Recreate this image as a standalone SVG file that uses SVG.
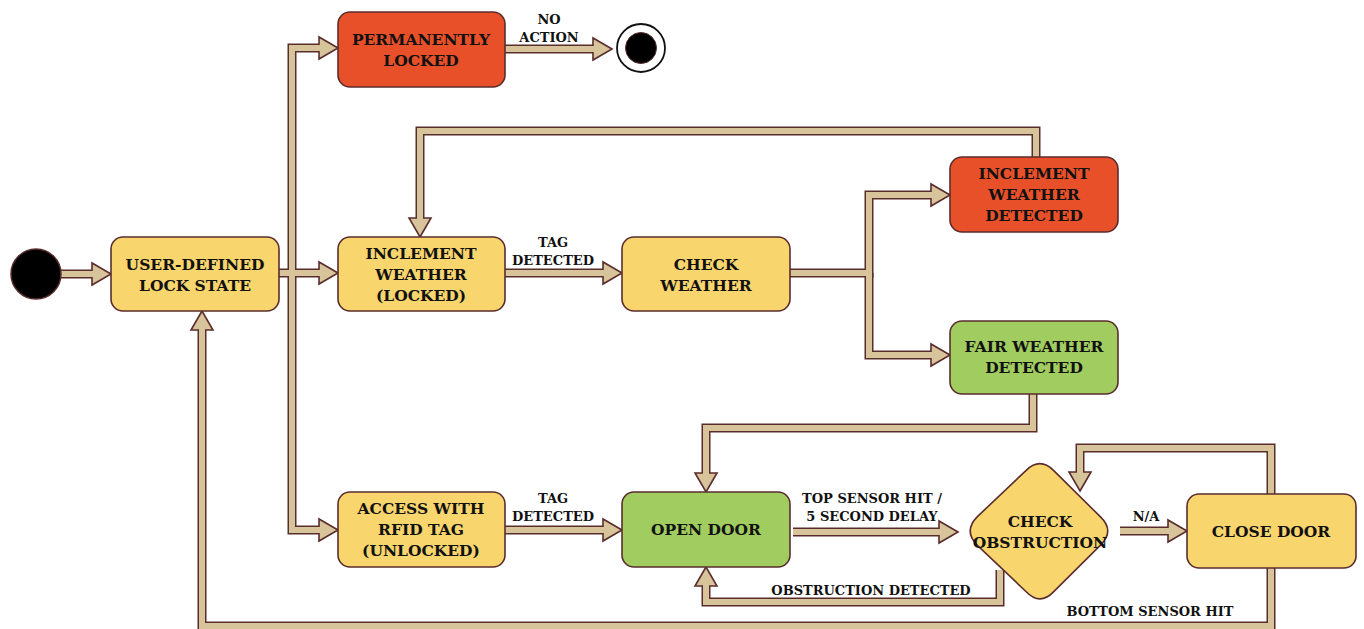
<svg xmlns="http://www.w3.org/2000/svg" xmlns:xlink="http://www.w3.org/1999/xlink" width="1364" height="629" viewBox="0 0 1364 629">
<style>
.box{stroke:#5a2d2d;stroke-width:1.6}
.y{fill:#f9d56e}.r{fill:#e8502a}.g{fill:#a1cc60}
.t{font-family:"DejaVu Serif","Liberation Serif",serif;font-weight:bold;font-size:15.5px;fill:#111;text-anchor:middle}
.l{font-family:"DejaVu Serif","Liberation Serif",serif;font-weight:bold;font-size:13px;fill:#111;text-anchor:middle}
.o{fill:none;stroke:#5a2d2d;stroke-width:9;stroke-linejoin:miter}
.i{fill:none;stroke:#d8c49b;stroke-width:6;stroke-linejoin:miter}
.hd{fill:#d8c49b;stroke:#5a2d2d;stroke-width:1.6;stroke-linejoin:miter}
</style>
<defs>
<path id="hd" d="M0,0 L-19,-11 L-19,11 Z"/>
</defs>
<rect width="1364" height="629" fill="#fff"/>
<g id="connectors">
<g class="o">
<path d="M61,274 H93"/>
<path d="M279,273 H320"/>
<path d="M292,273 V48 H320"/>
<path d="M292,273 V530 H320"/>
<path d="M505,49 H593"/>
<path d="M505,273 H604"/>
<path d="M790,273 H869 V195 H932"/>
<path d="M869,273 V355 H932"/>
<path d="M1036,157 V131 H420 V219"/>
<path d="M1033,394 V428 H706 V474"/>
<path d="M505,530 H604"/>
<path d="M793,532 H940"/>
<path d="M1120,531 H1169"/>
<path d="M1271,494 V448 H1080 V472"/>
<path d="M1000,570 V602 H706 V585"/>
<path d="M1271,568 V626 H202 V329"/>
</g>
<g class="hd">
<use xlink:href="#hd" transform="translate(111,274)"/>
<use xlink:href="#hd" transform="translate(338,273)"/>
<use xlink:href="#hd" transform="translate(338,48)"/>
<use xlink:href="#hd" transform="translate(338,530)"/>
<use xlink:href="#hd" transform="translate(612,49)"/>
<use xlink:href="#hd" transform="translate(622,273)"/>
<use xlink:href="#hd" transform="translate(950,195)"/>
<use xlink:href="#hd" transform="translate(950,355)"/>
<use xlink:href="#hd" transform="translate(420,237) rotate(90)"/>
<use xlink:href="#hd" transform="translate(706,492) rotate(90)"/>
<use xlink:href="#hd" transform="translate(622,530)"/>
<use xlink:href="#hd" transform="translate(958,532)"/>
<use xlink:href="#hd" transform="translate(1187,531)"/>
<use xlink:href="#hd" transform="translate(1080,491) rotate(90)"/>
<use xlink:href="#hd" transform="translate(706,567) rotate(-90)"/>
<use xlink:href="#hd" transform="translate(202,311) rotate(-90)"/>
</g>
<g class="i">
<path d="M61,274 H95"/>
<path d="M279,273 H322"/>
<path d="M292,273 V48 H322"/>
<path d="M292,273 V530 H322"/>
<path d="M505,49 H595"/>
<path d="M505,273 H606"/>
<path d="M790,273 H869 V195 H934"/>
<path d="M869,273 V355 H934"/>
<path d="M1036,157 V131 H420 V221"/>
<path d="M1033,394 V428 H706 V476"/>
<path d="M505,530 H606"/>
<path d="M793,532 H942"/>
<path d="M1120,531 H1171"/>
<path d="M1271,494 V448 H1080 V474"/>
<path d="M1000,570 V602 H706 V583"/>
<path d="M1271,568 V626 H202 V327"/>
</g>
<g class="l">
<text x="549" y="24">NO</text>
<text x="549" y="42">ACTION</text>
<text x="553" y="247">TAG</text>
<text x="553" y="265">DETECTED</text>
<text x="553" y="503">TAG</text>
<text x="553" y="521">DETECTED</text>
<text x="872" y="503">TOP SENSOR HIT /</text>
<text x="872" y="521">5 SECOND DELAY</text>
<text x="1146" y="521">N/A</text>
<text x="871" y="595">OBSTRUCTION DETECTED</text>
<text x="1150" y="616">BOTTOM SENSOR HIT</text>
</g>
</g>
<g id="start">
<circle cx="36" cy="274" r="25" fill="#000" stroke="#5a2d2d" stroke-width="1.5"/>
</g>
<g id="end">
<circle cx="641" cy="48" r="24" fill="#fff" stroke="#111" stroke-width="1.8"/>
<circle cx="641" cy="48" r="15.5" fill="#000" stroke="#5a2d2d" stroke-width="1"/>
</g>
<g id="user-defined">
<rect class="box y" x="111" y="237" width="168" height="74" rx="12"/>
<text class="t" x="195" y="270">USER-DEFINED</text>
<text class="t" x="195" y="291">LOCK STATE</text>
</g>
<g id="perm-locked">
<rect class="box r" x="338" y="12" width="167" height="75" rx="12"/>
<text class="t" x="421" y="45">PERMANENTLY</text>
<text class="t" x="421" y="66">LOCKED</text>
</g>
<g id="inclement-locked">
<rect class="box y" x="338" y="237" width="167" height="74" rx="12"/>
<text class="t" x="421" y="259">INCLEMENT</text>
<text class="t" x="421" y="280">WEATHER</text>
<text class="t" x="421" y="301">(LOCKED)</text>
</g>
<g id="check-weather">
<rect class="box y" x="622" y="237" width="168" height="74" rx="12"/>
<text class="t" x="706" y="270">CHECK</text>
<text class="t" x="706" y="291">WEATHER</text>
</g>
<g id="inclement-detected">
<rect class="box r" x="950" y="157" width="168" height="75" rx="12"/>
<text class="t" x="1034" y="179">INCLEMENT</text>
<text class="t" x="1034" y="200">WEATHER</text>
<text class="t" x="1034" y="221">DETECTED</text>
</g>
<g id="fair-detected">
<rect class="box g" x="950" y="321" width="168" height="73" rx="12"/>
<text class="t" x="1034" y="352">FAIR WEATHER</text>
<text class="t" x="1034" y="373">DETECTED</text>
</g>
<g id="rfid">
<rect class="box y" x="338" y="492" width="167" height="75" rx="12"/>
<text class="t" x="421" y="514">ACCESS WITH</text>
<text class="t" x="421" y="535">RFID TAG</text>
<text class="t" x="421" y="556">(UNLOCKED)</text>
</g>
<g id="open-door">
<rect class="box g" x="622" y="492" width="168" height="75" rx="12"/>
<text class="t" x="706" y="535">OPEN DOOR</text>
</g>
<g id="check-obstruction">
<path class="box y" d="M1026.2,470.3 Q1040,457 1053.5,470.4 L1100.5,516.9 Q1115,531 1100.5,545.1 L1053.5,591.9 Q1040,606 1026.2,591.7 L977.4,545.4 Q963,531 977.4,516.6 Z"/>
<text class="t" x="1040" y="527">CHECK</text>
<text class="t" x="1040" y="548">OBSTRUCTION</text>
</g>
<g id="close-door">
<rect class="box y" x="1187" y="494" width="169" height="74" rx="12"/>
<text class="t" x="1271" y="537">CLOSE DOOR</text>
</g>
</svg>
